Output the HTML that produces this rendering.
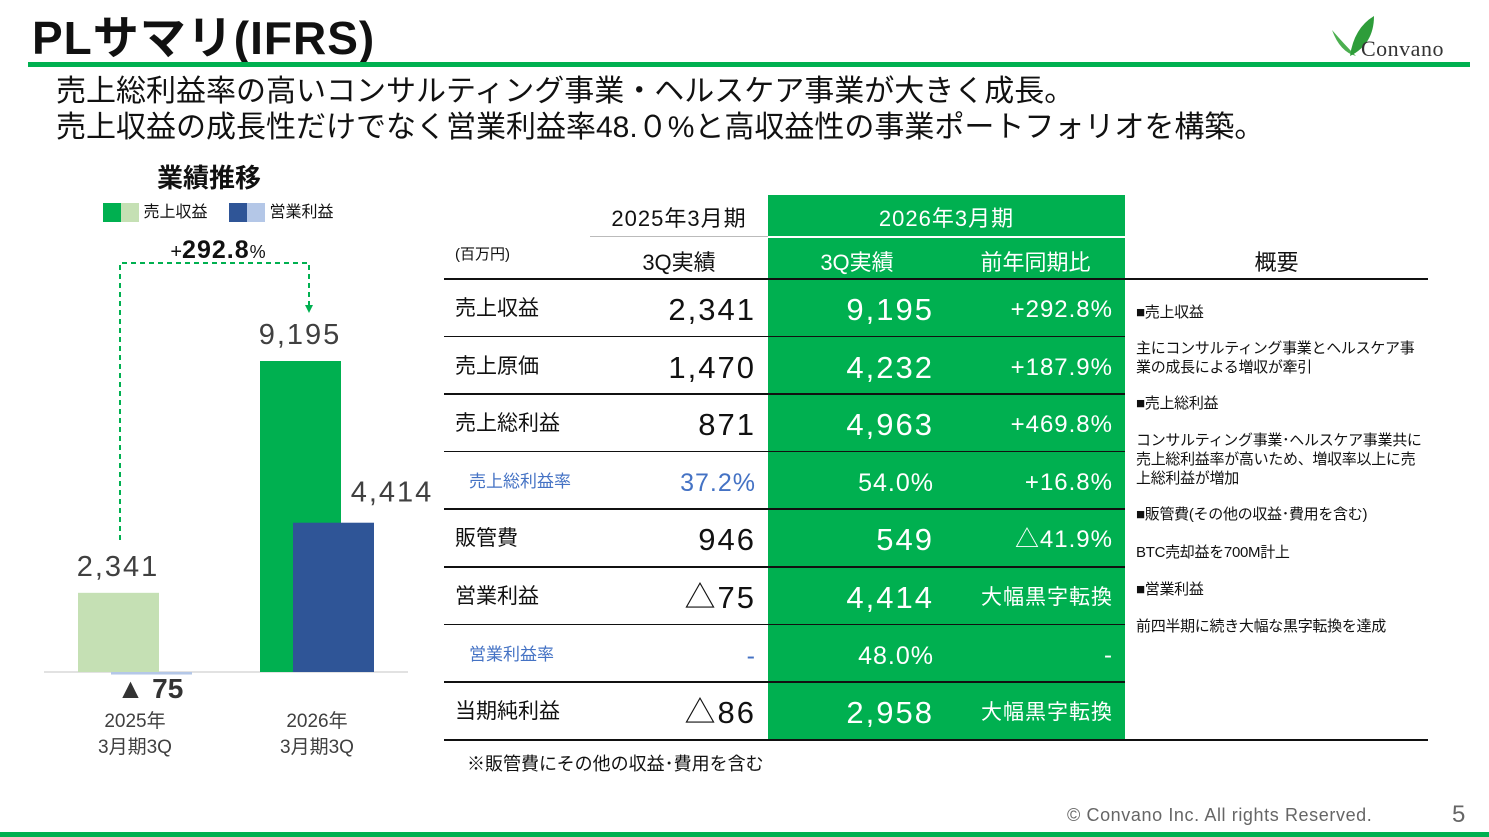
<!DOCTYPE html>
<html><head><meta charset="utf-8">
<style>
body{margin:0;width:1489px;height:837px;background:#fff;position:relative;overflow:hidden;font-family:"Liberation Sans","Noto Sans CJK JP",sans-serif;color:#111}
.a{position:absolute;white-space:nowrap}
.g{background:#00b050}
</style></head><body>
<div class="a" style="left:32px;top:10px;font-size:46px;font-weight:bold;line-height:56px;letter-spacing:1px">PLサマリ(IFRS)</div>
<div class="a" style="left:1330px;top:14px;width:134px;height:46px">
<svg width="44" height="44" style="position:absolute;left:0;top:0"><path d="M2 16 Q10 38 26 42 Q14 30 2 16Z" fill="#4caf50"/><path d="M20 42 Q24 14 44 2 Q44 30 20 42Z" fill="#2e9d3a"/></svg>
<div class="a" style="left:31px;top:22px;font-family:'Liberation Serif',serif;font-size:22px;color:#333;letter-spacing:0.5px">Convano</div></div>
<div class="a" style="left:28px;top:62px;width:1442px;height:5px;background:#00b050"></div>
<div class="a" style="left:56px;top:74px;font-size:30px;line-height:36px">売上総利益率の高いコンサルティング事業・ヘルスケア事業が大きく成長。<br>売上収益の成長性だけでなく営業利益率48.０%と高収益性の事業ポートフォリオを構築。</div>

<div class="a" style="left:157px;top:158px;font-size:26px;font-weight:bold">業績推移</div>
<div class="a" style="left:103px;top:203px;font-size:16px;line-height:19px"><span style="display:inline-block;width:18px;height:19px;background:#00b050;vertical-align:top"></span><span style="display:inline-block;width:18px;height:19px;background:#c5e0b4;vertical-align:top"></span> 売上収益</div>
<div class="a" style="left:229px;top:203px;font-size:16px;line-height:19px"><span style="display:inline-block;width:18px;height:19px;background:#2f5597;vertical-align:top"></span><span style="display:inline-block;width:18px;height:19px;background:#b4c7e7;vertical-align:top"></span> 営業利益</div>
<svg id="chart" class="a" style="left:0;top:0" width="440" height="837"></svg>

<div id="tbl"></div>
<div class="a" style="left:467px;top:750px;font-size:18px">※販管費にその他の収益･費用を含む</div>
<div class="a" style="left:1067px;top:805px;font-size:18px;color:#666;letter-spacing:0.6px">© Convano Inc. All rights Reserved.</div>
<div class="a" style="left:1452px;top:801px;font-size:24px;color:#666">5</div>
<div class="a" style="left:0;top:832px;width:1489px;height:5px;background:#00b050"></div>

<script>
const categories=["2025年\n3月期3Q","2026年\n3月期3Q"];
const revenue=[2341,9195];
const opProfit=[-75,4414];
const revLabels=["2,341","9,195"];
const opLabels=["▲ 75","4,414"];
const NS="http://www.w3.org/2000/svg";
const svg=document.getElementById('chart');
const base=672,scale=311/9195;
function y(v){return base-v*scale;}
function groupX(i){return 78+i*182;}
function mk(t,a){const e=document.createElementNS(NS,t);for(const k in a)e.setAttribute(k,a[k]);svg.appendChild(e);return e;}
const ax=mk('line',{x1:44,x2:408,y1:base,y2:base,stroke:'#d9d9d9','stroke-width':1.5});


categories.forEach((c,i)=>{
  const gx=groupX(i);
  const rv=revenue[i],op=opProfit[i];
  const b=mk('rect',{x:gx,width:81,y:Math.min(y(rv),base),height:Math.abs(rv*scale),fill:i==0?'#c5e0b4':'#00b050'});
  
  
  const b2=mk('rect',{x:gx+33,width:81,y:Math.min(y(op),base),height:Math.max(Math.abs(op*scale),1),fill:i==0?'#b4c7e7':'#2f5597'});
  
  
  const t=mk('text',{x:gx+40,y:y(rv)-17,'font-size':29,'text-anchor':'middle',fill:'#404040','letter-spacing':2});t.textContent=revLabels[i];
  
  
  let t2;
  if(op<0){t2=mk('text',{x:gx+72,y:base+26,'font-size':28,'font-weight':'bold','text-anchor':'middle',fill:'#333'});}
  else{t2=mk('text',{x:gx+132,y:y(op)-21,'font-size':29,'text-anchor':'middle',fill:'#404040','letter-spacing':2});}
  t2.textContent=opLabels[i];
  
  
  c.split('\n').forEach((s,k)=>{const tt=mk('text',{x:gx+57,y:727+k*26,'font-size':19,'text-anchor':'middle',fill:'#404040'});tt.textContent=s;
    
    });
});
const p=mk('path',{d:`M120 540 V263 H309 V308`,fill:'none',stroke:'#00b050','stroke-width':2,'stroke-dasharray':'5,4'});


const ar=mk('path',{d:'M305 305 L313 305 L309 313Z',fill:'#00b050'});


const gt=mk('text',{x:218,y:258,'font-size':25,'text-anchor':'middle',fill:'#111'});
gt.innerHTML='<tspan font-size="20">+</tspan><tspan font-weight="bold" letter-spacing="1">292.8</tspan><tspan font-size="18">%</tspan>';



const rows=[
 ["売上収益","2,341","9,195","+292.8%",0],
 ["売上原価","1,470","4,232","+187.9%",0],
 ["売上総利益","871","4,963","+469.8%",0],
 ["売上総利益率","37.2%","54.0%","+16.8%",1],
 ["販管費","946","549","△41.9%",0],
 ["営業利益","△75","4,414","大幅黒字転換",0],
 ["営業利益率","-","48.0%","-",1],
 ["当期純利益","△86","2,958","大幅黒字転換",0]];
const T=document.getElementById('tbl');
let h='';
function d(name,st,txt){return `<div class="a" style="${st}">${txt||''}</div>`;}
h+=d('green-block','left:768px;top:195px;width:357px;height:545px;background:#00b050','');
h+=d('header-2025','left:590px;top:201px;width:178px;font-size:22px;text-align:center;letter-spacing:1px','2025年3月期');
h+=d('header-2026','left:768px;top:201px;width:357px;font-size:22px;color:#fff;text-align:center;letter-spacing:1px','2026年3月期');
h+=d('header-sep','left:590px;top:236px;width:178px;height:1px;background:#bbb');
h+=d('header-sep-green','left:768px;top:236px;width:357px;height:2px;background:#fff');
h+=d('unit-label','left:455px;top:243px;font-size:15px','(百万円)');
h+=d('header-3q-2025','left:590px;top:245px;width:178px;font-size:22px;text-align:center','3Q実績');
h+=d('header-3q-2026','left:768px;top:245px;width:178px;font-size:22px;color:#fff;text-align:center','3Q実績');
h+=d('header-yoy','left:946px;top:245px;width:179px;font-size:22px;color:#fff;text-align:center','前年同期比');
h+=d('header-summary','left:1125px;top:245px;width:303px;font-size:22px;text-align:center','概要');
h+=d('header-line','left:444px;top:278px;width:984px;height:2px;background:#111');
rows.forEach((r,i)=>{
  const top=279+i*57.6;
  const sub=r[4];
  const col=sub?'#4472c4':'#111';
  const ls=sub?1:2;
  h+=d('row-label-'+i,`left:${sub?469:455}px;top:${top+17}px;font-size:${sub?17:21}px;line-height:26px;color:${col}`,r[0]);
  h+=d('value-2025-'+i,`left:590px;top:${top+13}px;width:166px;text-align:right;font-size:${sub?25:31}px;line-height:36px;color:${col};letter-spacing:${ls}px`,r[1]);
  h+=d('value-2026-'+i,`left:768px;top:${top+13}px;width:166px;text-align:right;font-size:${sub?25:31}px;line-height:36px;color:#fff;letter-spacing:${ls}px`,r[2]);
  h+=d('yoy-'+i,`left:946px;top:${top+14}px;width:167px;text-align:right;font-size:${r[3][0]=='大'?21:24}px;line-height:34px;color:#fff;letter-spacing:1px`,r[3]);
  if(i<7)h+=d('row-line-'+i,`left:444px;top:${top+56.6}px;width:681px;height:1.5px;background:#111`);
});
h+=d('table-bottom','left:444px;top:739px;width:984px;height:2px;background:#111');
h+=d('summary-text','left:1136px;top:303px;font-size:15px;line-height:19px;white-space:normal;width:290px;letter-spacing:-0.3px',
'■売上収益<br><div style="height:17px"></div>主にコンサルティング事業とヘルスケア事業の成長による増収が牽引<div style="height:17px"></div>■売上総利益<div style="height:18px"></div>コンサルティング事業･ヘルスケア事業共に売上総利益率が高いため、増収率以上に売上総利益が増加<div style="height:17px"></div>■販管費(その他の収益･費用を含む)<div style="height:19px"></div>BTC売却益を700M計上<div style="height:18px"></div>■営業利益<div style="height:18px"></div>前四半期に続き大幅な黒字転換を達成');
T.innerHTML=h;
</script>
</body></html>
